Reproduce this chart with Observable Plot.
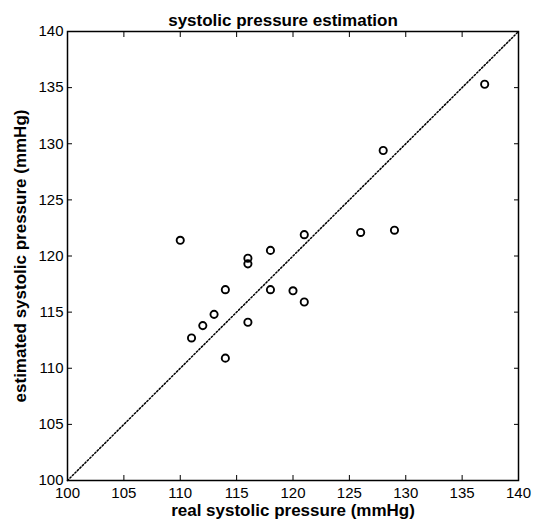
<!DOCTYPE html>
<html>
<head>
<meta charset="utf-8">
<script src="https://cdn.jsdelivr.net/npm/d3@7"></script>
<script src="https://cdn.jsdelivr.net/npm/@observablehq/plot@0.6"></script>
<style>
  html, body { margin: 0; padding: 0; background: #fff; }
  #chart svg { display: block; }
</style>
</head>
<body>
<div id="chart"></div>
<script>
const titleText = "systolic pressure estimation";
const xLabel = "real systolic pressure (mmHg)";
const yLabel = "estimated systolic pressure (mmHg)";

const realPressure = [110, 111, 112, 113, 114, 114, 116, 116, 116, 118, 118, 120, 121, 121, 126, 128, 129, 137];
const estimatedPressure = [121.4, 112.7, 113.8, 114.8, 117.0, 110.9, 119.8, 119.3, 114.1, 120.5, 117.0, 116.9, 121.9, 115.9, 122.1, 129.4, 122.3, 135.3];

const ticks = [100, 105, 110, 115, 120, 125, 130, 135, 140];
const identityLine = [100, 140];

const points = realPressure.map((x, i) => ({x, y: estimatedPressure[i]}));
const diag = identityLine.map(v => ({x: v, y: v}));

const font = "Liberation Sans, Arial, Helvetica, sans-serif";

const chart = Plot.plot({
  width: 541,
  height: 527,
  marginLeft: 67,
  marginRight: 23,
  marginTop: 31,
  marginBottom: 47,
  style: {fontFamily: font, fontSize: "15px", color: "#000", background: "#fff"},
  x: {domain: [100, 140], ticks},
  y: {domain: [100, 140], ticks},
  marks: [
    Plot.line(diag, {x: "x", y: "y", stroke: "#000", strokeWidth: 1.5, strokeDasharray: "1.5,2"}),
    Plot.dot(points, {x: "x", y: "y", r: 3.6, stroke: "#000", strokeWidth: 1.9, fill: "none"}),
    Plot.axisX({anchor: "bottom", ticks, tickSize: -5, tickPadding: 12, label: null, fontSize: 15}),
    Plot.axisX({anchor: "top", ticks, tickSize: -5, tickFormat: () => "", label: null}),
    Plot.axisY({anchor: "left", ticks, tickSize: -5, tickPadding: 9, label: null, fontSize: 15}),
    Plot.axisY({anchor: "right", ticks, tickSize: -5, tickFormat: () => "", label: null}),
    Plot.frame({stroke: "#000", strokeWidth: 1.5}),
    Plot.text([titleText], {frameAnchor: "top", dy: -18, dx: -10, textAnchor: "middle", fontWeight: "bold", fontSize: 17, fill: "#000"}),
    Plot.text([xLabel], {frameAnchor: "bottom", dy: 35, textAnchor: "middle", fontWeight: "bold", fontSize: 17, fill: "#000"}),
    Plot.text([yLabel], {frameAnchor: "left", dx: -47, rotate: -90, textAnchor: "middle", fontWeight: "bold", fontSize: 17, fill: "#000"})
  ]
});
document.getElementById("chart").appendChild(chart);
</script>
</body>
</html>
